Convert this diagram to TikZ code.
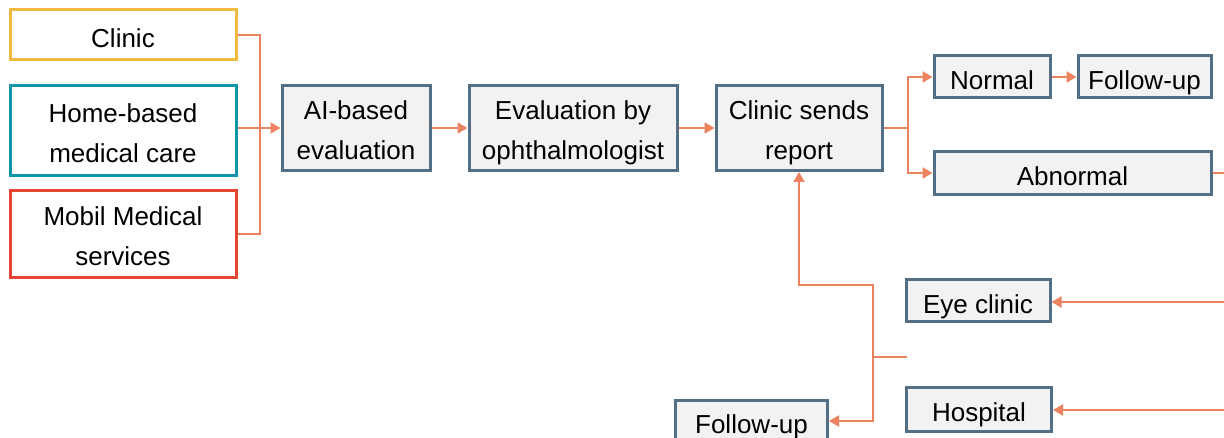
\documentclass[tikz,border=0pt]{standalone}
\usepackage{fontspec}
\setmainfont{Liberation Sans}
\usetikzlibrary{arrows.meta}
\definecolor{LinkOrange}{RGB}{236,130,95}
\definecolor{BoxSlate}{RGB}{84,110,132}
\definecolor{BoxFill}{RGB}{242,242,242}
\definecolor{SrcGold}{RGB}{240,185,65}
\definecolor{SrcTeal}{RGB}{16,150,168}
\definecolor{SrcRed}{RGB}{228,70,50}

\begin{document}
\begin{tikzpicture}[x=1pt, y=-1pt,
    every node/.style={font=\fontsize{26}{40}\selectfont, align=center, inner sep=0pt},
    oneline/.style={text height=25pt, text depth=0pt},
    twoline/.style={text height=64pt, text depth=0pt},
    source/.style={rectangle, draw, line width=3pt, fill=white, minimum width=226pt},
    stage/.style={rectangle, draw=BoxSlate, line width=3pt, fill=BoxFill},
    link/.style={draw=LinkOrange, line width=2pt},
    arr/.style={link, -{Triangle[length=10pt,width=11pt]}}]
      \clip (0,0) rectangle (1224,438);

      % where the patients come from
      \node (clinic) [source, oneline, draw=SrcGold, minimum height=50pt] at (123, 35) {Clinic};
      \node (home) [source, twoline, draw=SrcTeal, minimum height=90pt] at (123, 131) {
        Home-based \\ medical care
      };
      \node (mobil) [source, twoline, draw=SrcRed, minimum height=87pt] at (123, 234) {
        Mobil Medical \\ services
      };

      % main chain
      \node (ai) [stage, twoline, minimum width=148pt, minimum height=85pt] at (356, 128) {
        AI-based \\ evaluation
      };
      \node (eval) [stage, twoline, minimum width=208pt, minimum height=85pt] at (573, 128) {
        Evaluation by \\ ophthalmologist
      };
      \node (report) [stage, twoline, minimum width=166pt, minimum height=85pt] at (799, 128) {
        Clinic sends \\ report
      };

      % results
      \node (normal) [stage, oneline, minimum width=116pt, minimum height=42pt] at (992, 77) {Normal};
      \node (followA) [stage, oneline, minimum width=133pt, minimum height=42pt] at (1144.5, 77) {Follow-up};
      \node (abnormal) [stage, oneline, minimum width=277pt, minimum height=43pt] at (1072.5, 173) {Abnormal};

      % referral
      \node (eye) [stage, oneline, minimum width=144pt, minimum height=42pt] at (978, 301) {Eye clinic};
      \node (hospital) [stage, oneline, minimum width=145pt, minimum height=44pt] at (979, 409) {Hospital};
      \node (followB) [stage, oneline, minimum width=152pt, minimum height=42pt] at (751.5, 421) {Follow-up};

      \coordinate (joinL) at (260, 128);
      \coordinate (joinR) at (908, 128);
      \coordinate (abOut) at (1224, 173);
      \coordinate (eyeIn) at (1224, 302);
      \coordinate (hospIn) at (1224, 410);
      \coordinate (stubEnd) at (907, 357);
      \coordinate (joinB) at (873, 357);
      \coordinate (turn) at (799, 285);

      \draw[link] (clinic.east) -| (joinL) |- (mobil.east);
      \draw[arr] (ai.west -| home.east) -- (ai.west);
      \draw[arr] (ai) -- (eval);
      \draw[arr] (eval) -- (report);

      \draw[link] (report.east) -- (joinR);
      \draw[arr] (joinR) |- (normal.west);
      \draw[arr] (joinR) |- (abnormal.west);
      \draw[arr] (normal) -- (followA);
      \draw[link] (abnormal.east) -- (abOut);

      \draw[arr] (eyeIn) -- (eye.east |- eyeIn);
      \draw[arr] (hospIn) -- (hospital.east |- hospIn);
      \draw[link] (stubEnd) -- (joinB);
      \draw[arr] (joinB) |- (turn) -- (report.south);
      \draw[arr] (joinB) |- (followB.east);
    \end{tikzpicture}
\end{document}
